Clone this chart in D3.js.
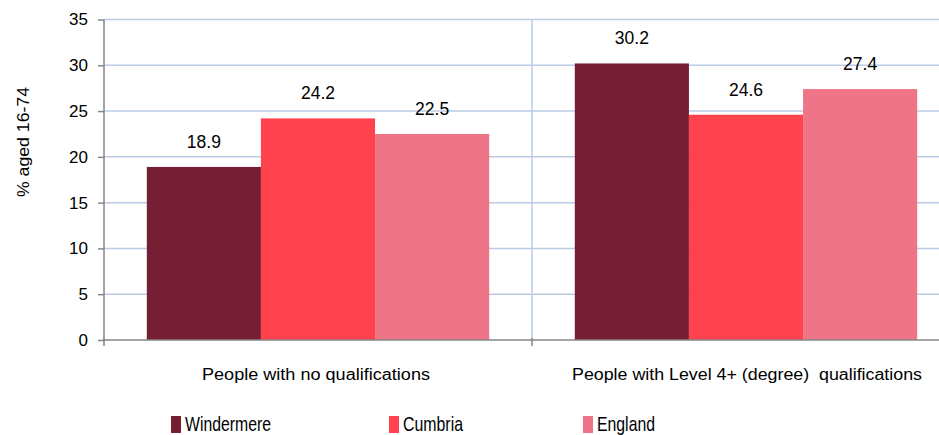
<!DOCTYPE html>
<html><head><meta charset="utf-8">
<script src="https://cdn.jsdelivr.net/npm/d3@7"></script>
<style>body{margin:0;background:#fff}svg{display:block;font-family:"Liberation Sans",Arial,sans-serif}</style>
</head><body><svg id="c" width="939" height="435"></svg>
<script>
const categories = ["People with no qualifications", "People with Level 4+ (degree)  qualifications"];
const seriesNames = ["Windermere", "Cumbria", "England"];
const windermere = [18.9, 30.2];
const cumbria = [24.2, 24.6];
const england = [22.5, 27.4];
const yTicks = [0, 5, 10, 15, 20, 25, 30, 35];
const colors = ["#761E34", "#FF424E", "#EE7488"];
const yTitle = "% aged 16-74";

const values = [windermere, cumbria, england];
const svg = d3.select("#c");
const pLeft = 104, pRight = 960, pTop = 19.5, pBottom = 340;
const x0 = d3.scaleBand().domain(categories).range([pLeft, pRight]).paddingInner(0).paddingOuter(0);
const x1 = d3.scaleBand().domain(seriesNames).range([0, x0.bandwidth()]).paddingInner(0).paddingOuter(0.375);
const y = d3.scaleLinear().domain([0, 35]).range([pBottom, pTop]);

// gridlines
svg.append("g").selectAll("line").data(yTicks.filter(d => d > 0)).join("line")
  .attr("x1", pLeft).attr("x2", 939).attr("y1", d => y(d)).attr("y2", d => y(d))
  .attr("stroke", "#B9CCE4").attr("stroke-width", 1.5);
// vertical category separator
svg.append("line").attr("x1", x0(categories[1])).attr("x2", x0(categories[1]))
  .attr("y1", pTop).attr("y2", pBottom).attr("stroke", "#B9CCE4").attr("stroke-width", 1.5);

// bars
const groups = svg.append("g").selectAll("g").data(categories).join("g")
  .attr("transform", d => `translate(${x0(d)},0)`);
groups.selectAll("rect").data((c, ci) => seriesNames.map((s, si) => ({s, si, v: values[si][ci]}))).join("rect")
  .attr("x", d => x1(d.s)).attr("width", x1.bandwidth())
  .attr("y", d => y(d.v)).attr("height", d => y(0) - y(d.v))
  .attr("fill", d => colors[d.si]);
groups.selectAll("text").data((c, ci) => seriesNames.map((s, si) => ({s, si, v: values[si][ci]}))).join("text")
  .attr("x", d => x1(d.s) + x1.bandwidth() / 2).attr("y", d => y(d.v) - 19)
  .attr("text-anchor", "middle").attr("font-size", 17.5).attr("fill", "#000")
  .text(d => d.v.toFixed(1));

// y axis
const yAxis = svg.append("g").attr("transform", `translate(${pLeft},0)`)
  .call(d3.axisLeft(y).tickValues(yTicks).tickSize(6).tickPadding(10).tickFormat(d3.format("d")));
yAxis.select(".domain").attr("stroke", "#868686").attr("stroke-width", 1.5).attr("d", `M0,${pTop}V${pBottom}`);
yAxis.selectAll(".tick line").attr("stroke", "#868686").attr("stroke-width", 1.5);
yAxis.selectAll(".tick text").attr("font-size", 17).attr("fill", "#000").attr("font-family", "Liberation Sans, Arial, sans-serif");

// x axis
svg.append("line").attr("x1", pLeft).attr("x2", 939).attr("y1", pBottom).attr("y2", pBottom)
  .attr("stroke", "#868686").attr("stroke-width", 1.5);
svg.append("g").selectAll("line").data([pLeft, x0(categories[1])]).join("line")
  .attr("x1", d => d).attr("x2", d => d).attr("y1", pBottom - 2).attr("y2", pBottom + 6)
  .attr("stroke", "#868686").attr("stroke-width", 1.5);
const catWidths = [228, 350];
svg.append("g").selectAll("text").data(categories).join("text")
  .attr("x", (d, i) => x0(d) + x0.bandwidth() / 2 + (i ? 1 : -2)).attr("y", 380)
  .attr("text-anchor", "middle").attr("font-size", 16).attr("fill", "#000")
  .attr("textLength", (d, i) => catWidths[i]).attr("lengthAdjust", "spacingAndGlyphs")
  .attr("xml:space", "preserve")
  .text(d => d);

// y title
svg.append("text").attr("transform", "translate(29,142) rotate(-90)")
  .attr("text-anchor", "middle").attr("font-size", 16).attr("fill", "#000")
  .attr("textLength", 110).attr("lengthAdjust", "spacingAndGlyphs")
  .text(yTitle);

// legend
const legX = [171, 389, 583];
const legTextW = [86, 60, 58];
const leg = svg.append("g").selectAll("g").data(seriesNames).join("g")
  .attr("transform", (d, i) => `translate(${legX[i]},0)`);
leg.append("rect").attr("x", 0).attr("y", 416).attr("width", 10).attr("height", 17)
  .attr("fill", (d, i) => colors[i]);
leg.append("text").attr("x", 14).attr("y", 430.5).attr("font-size", 21).attr("fill", "#000")
  .attr("textLength", (d, i) => legTextW[i]).attr("lengthAdjust", "spacingAndGlyphs")
  .text(d => d);
</script></body></html>
